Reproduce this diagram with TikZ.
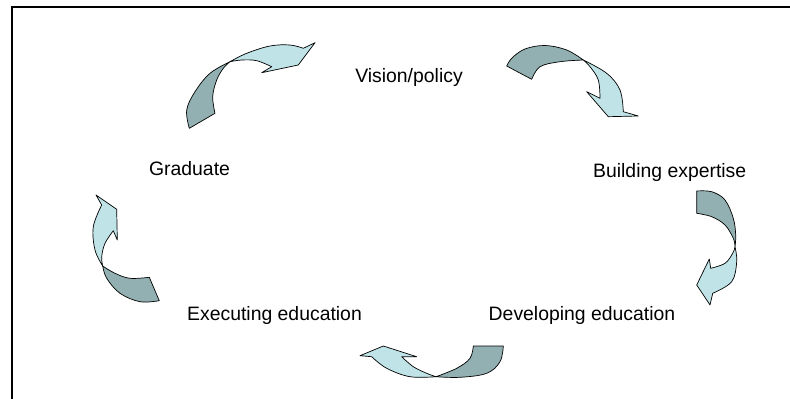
\documentclass[tikz,border=0pt]{standalone}
\usepackage{fontspec}
\setmainfont{Liberation Sans}
\definecolor{lightc}{RGB}{191,227,230}
\definecolor{darkc}{RGB}{146,176,178}
\begin{document}
\begin{tikzpicture}[x=1pt,y=-1pt,
  lbl/.style={anchor=base,inner sep=0pt,font=\fontsize{19.4}{22}\selectfont},
  front/.style={fill=lightc,draw=black,line width=0.7pt,line join=round},
  back/.style={fill=darkc,draw=black,line width=0.7pt,line join=round}]
\useasboundingbox (0,0) rectangle (790,399);
\fill[white] (0,0) rectangle (790,399);
\draw[line width=2pt] (11.8,399) -- (11.8,6.7) -- (790,6.7);
% labels
\node[lbl] (vision) at (409,82.7) {Vision/policy};
\node[lbl] (build) at (669.7,177.7) {Building expertise};
\node[lbl] (dev) at (582,320) {Developing education};
\node[lbl] (exec) at (274.5,320) {Executing education};
\node[lbl] (grad) at (189.5,175.7) {Graduate};
% arrow 1 (Graduate -> Vision)
\draw[back] (189.3,128.3) -- (215,113.3)
  -- plot[smooth,tension=0.6] coordinates {(215,113.3) (212.7,96.7) (216.7,80) (223.3,68.3) (230,61.7)}
  -- plot[smooth,tension=0.6] coordinates {(230,61.7) (210,73.3) (195,91.7) (186.7,110) (189.3,128.3)} -- cycle;
\draw[front] (230,61.7)
  -- plot[smooth,tension=0.6] coordinates {(230,61.7) (246.7,53.3) (270,46) (290,45) (303.3,48.3)}
  -- (315,42.7) -- (298.3,65) -- (261.7,72.7) -- (271.7,66.7)
  -- plot[smooth,tension=0.6] coordinates {(271.7,66.7) (256.7,60.7) (241.7,60) (230,61.7)} -- cycle;
% arrow 2 (Vision -> Building)
\draw[back] (506.7,66) -- (531.7,79.3)
  -- plot[smooth,tension=0.6] coordinates {(531.7,79.3) (540,66.7) (560,61.7) (583.3,60)}
  -- plot[smooth,tension=0.6] coordinates {(583.3,60) (566.7,50) (545,45.5) (525,49) (512,58) (506.7,66)} -- cycle;
\draw[front] (583.3,60)
  -- plot[smooth,tension=0.6] coordinates {(583.3,60) (606.7,73.3) (620,90) (623.3,111.7)}
  -- (638.3,116) -- (608.3,116.7) -- (586.7,91.7) -- (600,98.3)
  -- plot[smooth,tension=0.6] coordinates {(600,98.3) (598.3,80) (590,66.7) (583.3,60)} -- cycle;
% arrow 3 (Building -> Developing)
\draw[back] (696.7,213.3) -- (696.7,191)
  -- plot[smooth,tension=0.6] coordinates {(696.7,191) (711.7,191.7) (725,200) (733.3,218.3) (735.7,235) (735,246.7)}
  -- plot[smooth,tension=0.6] coordinates {(735,246.7) (733.3,238.3) (725,225) (711.7,216.7) (696.7,213.3)} -- cycle;
\draw[front] (735,246.7)
  -- plot[smooth,tension=0.6] coordinates {(735,246.7) (736.7,261.7) (731.7,281.7) (712.7,293.3)}
  -- (710,305) -- (696.7,285) -- (709.3,259) -- (710.7,268.3)
  -- plot[smooth,tension=0.6] coordinates {(710.7,268.3) (725,263.3) (732.7,253.3) (735,246.7)} -- cycle;
% arrow 4 (Developing -> Executing)
\draw[back] (473.3,346) -- (503.3,346)
  -- plot[smooth,tension=0.6] coordinates {(503.3,346) (500,361.7) (486.7,373.3) (460,377.3) (436,376.7)}
  -- plot[smooth,tension=0.6] coordinates {(436,376.7) (456.7,368.3) (470,358.3) (473.3,346)} -- cycle;
\draw[front] (436,376.7)
  -- plot[smooth,tension=0.6] coordinates {(436,376.7) (410,376.7) (386.7,368.3) (371.7,356.7)}
  -- (360,355.7) -- (383.3,346) -- (416.7,356.7) -- (401.7,356.7)
  -- plot[smooth,tension=0.6] coordinates {(401.7,356.7) (413.3,366.7) (426.7,373.3) (436,376.7)} -- cycle;
% arrow 5 (Executing -> Graduate)
\draw[back] (149.3,277.3) -- (159.3,300.7)
  -- plot[smooth,tension=0.6] coordinates {(159.3,300.7) (140,301.7) (120,293.3) (106.7,278.3) (102.7,266)}
  -- plot[smooth,tension=0.6] coordinates {(102.7,266) (115,273.3) (130,278.3) (149.3,277.3)} -- cycle;
\draw[front] (102.7,266)
  -- plot[smooth,tension=0.6] coordinates {(102.7,266) (95,250) (93.3,226.7) (101.7,205)}
  -- (96,195) -- (116.7,209.3) -- (117.3,240) -- (113.3,230.7)
  -- plot[smooth,tension=0.6] coordinates {(113.3,230.7) (105,243.3) (101.7,256.7) (102.7,266)} -- cycle;
\end{tikzpicture}
\end{document}
